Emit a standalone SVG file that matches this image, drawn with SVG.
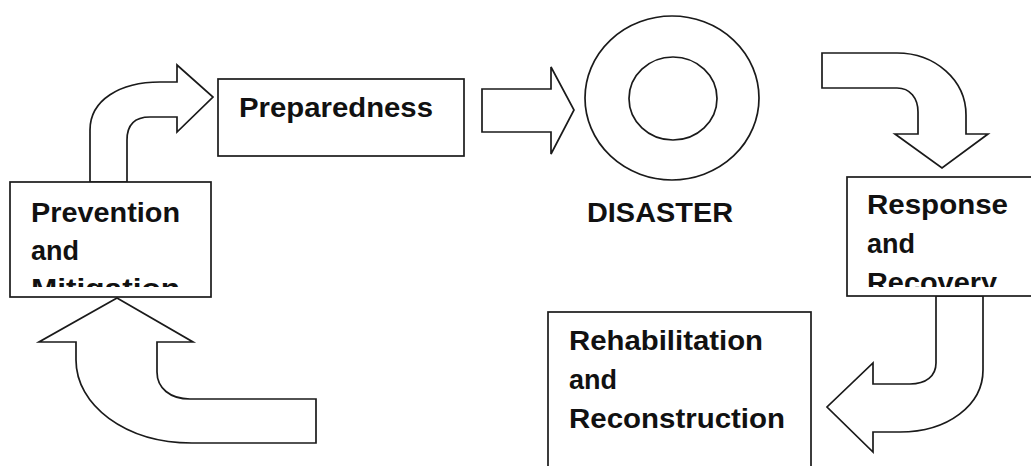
<svg xmlns="http://www.w3.org/2000/svg" width="1031" height="466" viewBox="0 0 1031 466">
<style>
.bg{fill:#ffffff}
.shape{fill:#ffffff;stroke:#1a1a1a;stroke-width:1.7;stroke-linejoin:miter}
.lbl{font-family:"Liberation Sans",Arial,sans-serif;font-weight:bold;font-size:27px;fill:#111111}
</style>
<defs>
<clipPath id="clipPrev"><rect x="11" y="183" width="199" height="104"/></clipPath>
<clipPath id="clipResp"><rect x="848" y="178" width="190" height="109"/></clipPath>
</defs>
<rect class="bg" x="0" y="0" width="1031" height="466"/>
<g id="connectors">
<path class="shape" d="M90,182 L90,130 C90,100 120,82 160,82 L177,82 L177,65 L213,97 L177,132 L177,117 L150,117 C135,117 127,125 127,140 L127,182 Z"/>
<path class="shape" d="M482,89 L551,89 L551,67 L574,110 L551,154 L551,132 L482,132 Z"/>
<path class="shape" d="M822,53 L897,53 C935,53 966,80 966,115 L966,134 L988,134 L942,168 L895,134 L918,134 L918,112 C918,98 910,88 897,88 L822,88 Z"/>
<path class="shape" d="M936,296 L936,363 C936,376 926,384 910,384 L873,384 L873,363 L827,407 L873,452 L873,432 L900,432 C948,432 983,405 983,370 L983,296 Z"/>
<path class="shape" d="M117,298 L193,342 L157,342 L157,372 C157,388 170,399 190,399 L316,399 L316,443 L192,443 C125,443 76,405 76,360 L76,342 L39,342 Z"/>
</g>
<g id="preparedness">
<rect class="shape" x="218" y="79" width="246" height="77"/>
<text class="lbl" x="239" y="117" textLength="194" lengthAdjust="spacingAndGlyphs">Preparedness</text>
</g>
<g id="prevention">
<rect class="shape" x="10" y="182" width="201" height="115"/>
<g clip-path="url(#clipPrev)">
<text class="lbl" x="31" y="222" textLength="149" lengthAdjust="spacingAndGlyphs">Prevention</text>
<text class="lbl" x="31" y="260">and</text>
<text class="lbl" x="31" y="298" textLength="149" lengthAdjust="spacingAndGlyphs">Mitigation</text>
</g>
</g>
<g id="disaster">
<ellipse class="shape" cx="672" cy="98" rx="87" ry="82"/>
<ellipse class="shape" cx="673" cy="98.5" rx="44" ry="41.5"/>
<text class="lbl" x="587" y="222" textLength="146" lengthAdjust="spacingAndGlyphs">DISASTER</text>
</g>
<g id="response">
<rect class="shape" x="847" y="177" width="195" height="119"/>
<g clip-path="url(#clipResp)">
<text class="lbl" x="867" y="214" textLength="141" lengthAdjust="spacingAndGlyphs">Response</text>
<text class="lbl" x="867" y="253">and</text>
<text class="lbl" x="867" y="292" textLength="130" lengthAdjust="spacingAndGlyphs">Recovery</text>
</g>
</g>
<g id="rehabilitation">
<rect class="shape" x="548" y="312" width="263" height="170"/>
<text class="lbl" x="569" y="350" textLength="194" lengthAdjust="spacingAndGlyphs">Rehabilitation</text>
<text class="lbl" x="569" y="389">and</text>
<text class="lbl" x="569" y="428" textLength="216" lengthAdjust="spacingAndGlyphs">Reconstruction</text>
</g>
</svg>
